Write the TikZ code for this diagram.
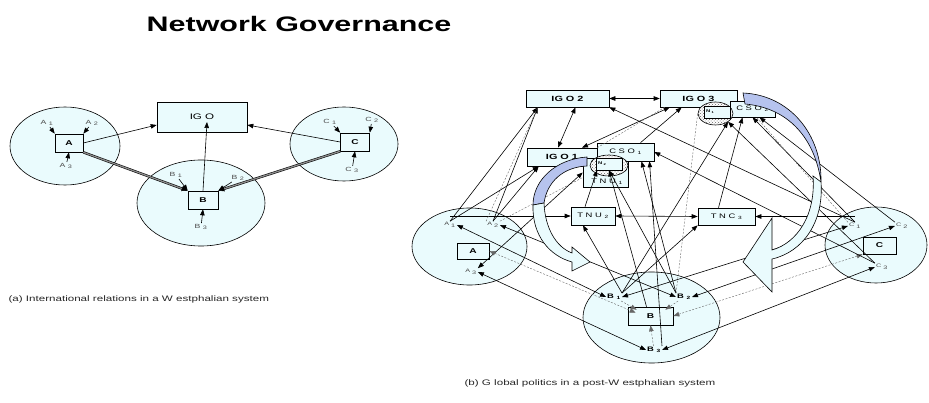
\documentclass[tikz,border=0pt]{standalone}
\usepackage{fontspec}
\setmainfont{Liberation Sans}[FakeStretch=1.45]
\usetikzlibrary{arrows.meta,shapes.geometric,patterns}
\definecolor{govfill}{HTML}{EAFBFD}
\definecolor{govblue}{HTML}{B6C3EE}
\begin{document}
\begin{tikzpicture}[x=1pt, y=-1pt,
  region/.style={draw, fill=govfill, line width=0.6pt},
  govbox/.style={draw, fill=govfill, line width=0.6pt, inner sep=0pt},
  nzone/.style={ellipse, draw, line width=0.6pt, preaction={fill=white}, pattern=crosshatch dots, pattern color=black!60, inner sep=0pt},
  ntext/.style={font=\fontsize{4}{4}\selectfont\bfseries, text width=22pt, inner xsep=2pt, align=left},
  lab/.style={font=\fontsize{6}{6}\selectfont, text=black!70, inner sep=1pt},
  sublab/.style={font=\fontsize{5}{5}\selectfont, text=black!70, inner sep=1pt},
  boldlab/.style={font=\fontsize{6.5}{6.5}\selectfont\bfseries, inner sep=1pt},
  boxtext/.style={font=\fontsize{6.5}{6.5}\selectfont},
  igotext/.style={font=\fontsize{7.5}{7.5}\selectfont\bfseries},
  statetext/.style={font=\fontsize{7}{7}\selectfont\bfseries},
  captext/.style={font=\fontsize{8}{8}\selectfont, text=black!85},
  arr/.style={line width=0.6pt, -{Triangle[length=6pt,width=4.5pt]}},
  darr/.style={line width=0.6pt, {Triangle[length=6pt,width=4.5pt]}-{Triangle[length=6pt,width=4.5pt]}},
  dsh/.style={line width=0.4pt, draw=black!60, dash pattern=on 2pt off 1.5pt},
  dbl/.style={double=black!45, double distance=1.3pt, line width=0.55pt, -{Triangle[length=6pt,width=5pt]}},
  bandback/.style={draw, fill=govblue, line width=0.6pt},
  bandfront/.style={draw, fill=govfill, line width=0.6pt}]
\useasboundingbox (0,0) rectangle (929,403);

\draw (299,24) node[font=\fontsize{21}{21}\selectfont\bfseries] (title) {Network Governance};

\draw[region] (65,146) ellipse [x radius=55, y radius=39];
\draw[region] (201,203) ellipse [x radius=64, y radius=43];
\draw[region] (344,144) ellipse [x radius=54, y radius=37];

\draw (202,117) node[govbox, minimum width=90, minimum height=30, font=\fontsize{8}{8}\selectfont] (igo) {IG O};
\draw (69,143) node[govbox, statetext, minimum width=28, minimum height=18] (wboxa) {A};
\draw (203,200) node[govbox, statetext, minimum width=30, minimum height=18] (wboxb) {B};
\draw (355,142) node[govbox, statetext, minimum width=29, minimum height=18] (wboxc) {C};

\draw (47,123) node[lab] (wa1) {A \textsubscript{1}};
\draw (92,123) node[lab] (wa2) {A \textsubscript{2}};
\draw (66,166) node[lab] (wa3) {A \textsubscript{3}};
\draw (176,175) node[lab] (wb1) {B \textsubscript{1}};
\draw (238,178) node[lab] (wb2) {B \textsubscript{2}};
\draw (201,227) node[lab] (wb3) {B \textsubscript{3}};
\draw (330,122) node[lab] (wc1) {C \textsubscript{1}};
\draw (372,120) node[lab] (wc2) {C \textsubscript{2}};
\draw (352,170) node[lab] (wc3) {C \textsubscript{3}};

\draw[arr] (wa1) -- (wboxa.north west);
\draw[arr] (wa2) -- (wboxa.north east);
\draw[arr] (wa3) -- (wboxa.south);
\draw[arr] (wb1) -- (wboxb.north west);
\draw[arr] (wb2) -- (wboxb.north east);
\draw[arr] (wb3) -- (wboxb.south);
\draw[arr] (wc1) -- (wboxc.north west);
\draw[arr] (wc2) -- (wboxc.north east);
\draw[arr] (wc3) -- (wboxc.south);
\draw[arr] (wboxa.east) -- (igo.190);
\draw[arr] (wboxb.north) -- ([shift={(5,5)}]igo.center);
\draw[arr] (wboxc.west) -- (igo.350);
\draw[dbl] (wboxa.south east) -- (wboxb.north west);
\draw[dbl] (wboxc.south west) -- (wboxb.north east);

\draw (5,299) node[captext, anchor=west] (capa) {(a) International relations in a W estphalian system};

\draw[region] (469.5,246.5) ellipse [x radius=57.5, y radius=38.5];
\draw[region] (651.5,317.5) ellipse [x radius=68.5, y radius=45.5];
\draw[region] (876,245) ellipse [x radius=51, y radius=38];

\draw (473,251) node[govbox, statetext, minimum width=32, minimum height=16] (pboxa) {A};
\draw (650.5,316) node[govbox, statetext, minimum width=45, minimum height=18] (pboxb) {B};
\draw (879.5,245.5) node[govbox, statetext, minimum width=33, minimum height=17] (pboxc) {C};

\draw (450,225) node[sublab] (pa1) {A \textsubscript{1}};
\draw (493,225) node[sublab] (pa2) {A \textsubscript{2}};
\draw (471,272) node[sublab] (pa3) {A \textsubscript{3}};
\draw (614,297) node[boldlab] (pb1) {B \textsubscript{1}};
\draw (684,297) node[boldlab] (pb2) {B \textsubscript{2}};
\draw (654,350) node[boldlab] (pb3) {B \textsubscript{3}};
\draw (855,226) node[sublab] (pc1) {C \textsubscript{1}};
\draw (902,226) node[sublab] (pc2) {C \textsubscript{2}};
\draw (882,267) node[sublab] (pc3) {C \textsubscript{3}};

\draw (567.5,98.5) node[govbox, igotext, minimum width=83, minimum height=17] (igo2) {IG O 2};
\draw (698.5,98.5) node[govbox, igotext, minimum width=77, minimum height=17] (igo3) {IG O 3};
\draw (752.5,109) node[govbox, boxtext, minimum width=45, minimum height=16] (cso2) {C S O \textsubscript{2}};
\draw (715.5,113.5) node[nzone, minimum width=35, minimum height=23] (n1) {};
\draw (717,112) node[govbox, ntext, minimum height=12] (n1box) {N \textsubscript{1}};
\draw (562,157) node[govbox, igotext, minimum width=70, minimum height=18] (igo1) {IG O 1};
\draw (605.5,172.5) node[govbox, minimum width=45, minimum height=29] (tnu1) {};
\draw (607,181.5) node[boxtext] (tnu1text) {T N U \textsubscript{1}};
\draw (625.5,152) node[govbox, boxtext, minimum width=57, minimum height=18] (cso1) {C S O \textsubscript{1}};
\draw (609,165.5) node[nzone, minimum width=38, minimum height=21] (n2) {};
\draw (609,164) node[govbox, ntext, minimum height=12] (n2box) {N \textsubscript{2}};
\draw (593,216) node[govbox, boxtext, minimum width=44, minimum height=18] (tnu2) {T N U \textsubscript{2}};
\draw (726.5,216.5) node[govbox, boxtext, minimum width=57, minimum height=17] (tnc3) {T N C \textsubscript{3}};

\draw[arr] (pa1.north) -- ([xshift=12pt]igo2.south west);
\draw[arr] (pa1.north) -- ([xshift=12pt]igo1.south west);
\draw[arr] (pa1.north |- tnu2.west) -- (tnu2.west);
\draw[arr] (pa2.north) -- ([xshift=12pt]igo2.south west);
\draw[arr] (pa2.north) -- ([xshift=12pt]igo1.south west);
\draw[dsh] (pa2.north west) -- ([xshift=12pt]igo2.south west);
\draw[dsh] (pa2.north east) -- ([yshift=-5pt]tnu1.west);
\draw[darr] (pa3.north east) -- (tnu1.west);
\draw[darr] (pa1.east) -- (pb1.west);
\draw[darr] (pa2.east) -- (pb2.west);
\draw[darr, dsh] (pboxa.east) -- ([shift={(8,6)}]pboxb.north west);
\draw[darr] (pa3.east) -- (pb3.west);
\draw[darr] (pc1.west) -- (pb1.east);
\draw[darr] (pc2.west) -- (pb2.east);
\draw[darr, dsh] (pboxc.south west) -- (pboxb.east);
\draw[darr] (pc3.west) -- (pb3.east);
\draw[arr, dsh] (pb1) -- ([shift={(9,3)}]pboxb.north west);
\draw[arr, dsh] (pb2) -- ([shift={(-8,3)}]pboxb.north east);
\draw[arr, dsh] (pb3) -- (pboxb.south);

\draw[darr] (igo2.east) -- (igo3.west);
\draw[darr] ([xshift=8pt]igo2.south) -- ([xshift=-4pt]igo1.north);
\draw[darr] ([xshift=20pt]igo1.north) -- ([xshift=10pt]igo3.south west);
\draw[arr] ([xshift=15pt]cso1.north) -- ([xshift=22pt]igo3.south west);
\draw[dsh] (igo1.north east) -- ([xshift=5pt]igo3.south west);
\draw[arr] (pc1.north) -- (igo2.south east);
\draw[arr] (pc1.north) -- (cso2.south);
\draw[dsh] (pc1.north west) -- ([xshift=4pt]cso2.south);
\draw[arr] (pc2.north west) -- ([xshift=7pt]cso2.south);
\draw[arr] (tnc3.east -| pc1.north) -- (tnc3.east);
\draw[darr] (tnu2.east) -- (tnc3.west);
\draw[arr] ([xshift=-8pt]tnc3.north) -- ([xshift=-10pt]cso2.south);
\draw[arr] (pc3.north west) -- (n1.south east);
\draw[arr] (pc3.north west) -- (cso1.east);
\draw[arr] (pb1.north east) -- ([xshift=-10pt]tnu2.south);
\draw[arr] (pb1.north east) -- (tnc3.south west);
\draw[arr] (pb1.north east) -- (n1.south east);
\draw[arr] ([xshift=-8pt]tnu2.north) -- ([xshift=-12pt]n2box.south);
\draw[arr] (pb2.north west) -- (n2box.south);
\draw[arr] ([xshift=-4pt]pboxb.north) -- (n2box.south);
\draw[arr] (pb2.north west) -- ([xshift=16pt]cso1.south);
\draw[arr] (pb3.north east) -- ([xshift=24pt]cso1.south);
\draw[dsh] (pb2.north west) -- (n1.west);

\draw[bandback] (587,157) .. controls (556,159) and (533,180) .. (533,205) -- (544,203) .. controls (547,182) and (563,167) .. (587,166) -- cycle;
\draw[bandfront] (533,205) .. controls (532,236) and (550,256) .. (572,262) -- (572,271) -- (590,262) -- (572,247) -- (572,253) .. controls (556,247) and (545,228) .. (544,203) -- cycle;
\draw[bandback] (743,93) .. controls (790,95) and (822,135) .. (821,182) .. controls (815,140) and (790,108) .. (745,104) -- cycle;
\draw[bandfront] (813,176) .. controls (816,215) and (797,243) .. (772,250) -- (772,218) -- (743,262) -- (772,292) -- (772,259) .. controls (803,252) and (824,222) .. (821,182) -- cycle;

\draw (590,383) node[captext] (capb) {(b) G lobal politics in a post-W estphalian system};
\end{tikzpicture}
\end{document}
